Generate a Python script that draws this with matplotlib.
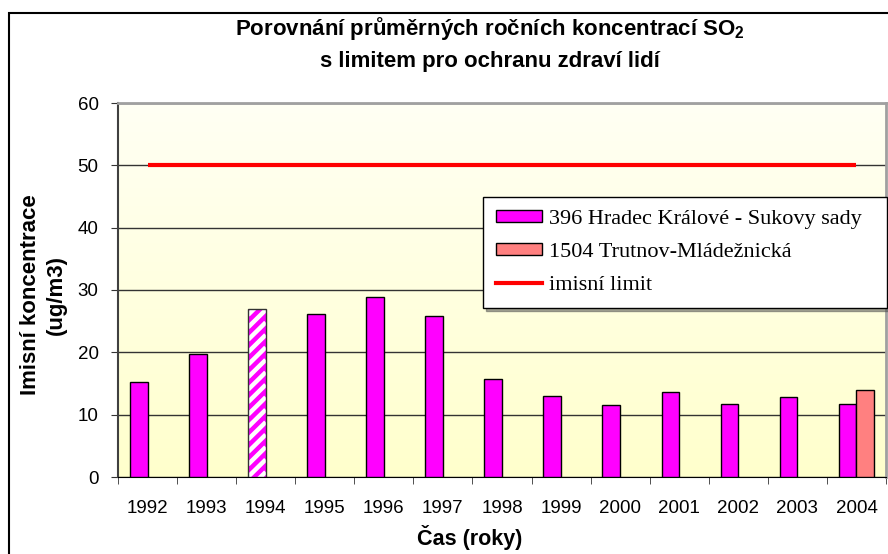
import numpy as np
import matplotlib.pyplot as plt
from matplotlib.patches import Patch, Rectangle
from matplotlib.lines import Line2D
from matplotlib.colors import LinearSegmentedColormap

plt.rcParams['font.family'] = 'Liberation Sans'
plt.rcParams['mathtext.fontset'] = 'custom'
plt.rcParams['mathtext.rm'] = 'Liberation Sans'
plt.rcParams['mathtext.bf'] = 'Liberation Sans:bold'

# Data
years = ['1992', '1993', '1994', '1995', '1996', '1997', '1998',
         '1999', '2000', '2001', '2002', '2003', '2004']
hradec = [15.3, 19.8, 27.0, 26.2, 28.9, 25.8, 15.8, 13.0, 11.5, 13.6, 11.7, 12.8, 11.7]
trutnov = [np.nan] * 12 + [13.9]
limit = 50
hatched_year = '1994'

label_hk = '396 Hradec Králové - Sukovy sady'
label_tr = '1504 Trutnov-Mládežnická'
label_lim = 'imisní limit'

fig = plt.figure(figsize=(8.88, 5.54), dpi=100)

# outer chart frame
fig.patches.append(Rectangle((9/888, -0.1), 1.2, 1 - 13/554 + 0.1, transform=fig.transFigure,
                             fill=False, edgecolor='black', lw=1.5))

ax = fig.add_axes([118/888, 77/554, 768/888, 374/554])
x = np.arange(len(years))
w = 0.3

# background gradient
grad = np.linspace(0, 1, 256).reshape(-1, 1)
cmap = LinearSegmentedColormap.from_list('bg', ['#FFFFF4', '#FFFFCC'])
ax.imshow(grad, extent=[-0.5, 12.5, 0, 60], aspect='auto', cmap=cmap, zorder=-1, origin='upper')

hi = years.index(hatched_year)
plain = [v if i != hi else np.nan for i, v in enumerate(hradec)]
ax.bar(x - w/2, plain, w, color='#FF00FF', edgecolor='black', lw=1, zorder=3)

# hatched bar (1994) - white diagonal stripes clipped to the bar
hb = ax.bar(x[hi] - w/2, hradec[hi], w, color='#FF00FF', lw=0, zorder=3)[0]
period = 2.0          # vertical stripe period in data units
rise = 2.8            # rise across the bar width (~45 deg on screen)
x0 = x[hi] - w
for k in np.arange(-2, hradec[hi] / period + 2):
    y0 = k * period
    ln, = ax.plot([x0, x0 + w], [y0, y0 + rise], color='white', lw=3.2, zorder=3.1,
                  solid_capstyle='butt')
    ln.set_clip_path(hb)
ax.bar(x[hi] - w/2, hradec[hi], w, fill=False, edgecolor='#333333', lw=1, zorder=3.2)

ax.bar(x + w/2, trutnov, w, color='#FF8080', edgecolor='black', lw=1, zorder=3)

ax.plot([x[0], x[-1]], [limit, limit], color='red', lw=3, solid_capstyle='butt', zorder=4)

ax.set_xlim(-0.5, 12.5)
ax.set_ylim(0, 60)
ax.set_yticks(range(0, 61, 10))
ax.yaxis.grid(True, color='#333333', lw=1)
ax.set_axisbelow(True)

ax.set_xticks(x)
ax.set_xticklabels(years)
ax.set_xticks(np.arange(-0.5, 12.6, 1), minor=True)
ax.tick_params(axis='x', which='major', length=0, pad=16.5, labelsize=13.5)
ax.tick_params(axis='x', which='minor', length=5, direction='out', color='#333333')
ax.tick_params(axis='y', length=5, direction='out', pad=9, labelsize=13.5, color='#333333')

ax.spines['left'].set_color('#404040')
ax.spines['left'].set_linewidth(1.5)
ax.spines['bottom'].set_color('black')
for s in ['top', 'right']:
    ax.spines[s].set_color('#a0a0a0')
    ax.spines[s].set_linewidth(2)

handles = [Patch(facecolor='#FF00FF', edgecolor='black'),
           Patch(facecolor='#FF8080', edgecolor='black'),
           Line2D([0], [0], color='red', lw=3)]
leg = ax.legend(handles, [label_hk, label_tr, label_lim], loc='upper left',
                bbox_to_anchor=(483/888, 1 - 310/554, 404/888, 113/554),
                bbox_transform=fig.transFigure, mode='expand',
                fancybox=False, shadow=True, edgecolor='black', framealpha=1,
                prop={'family': 'Liberation Serif', 'size': 16},
                handlelength=2.05, handleheight=0.45, labelspacing=0.62,
                borderpad=0.6, handletextpad=0.3, borderaxespad=0)
leg.get_frame().set_linewidth(1)
leg.set_zorder(10)

fig.text(490/888, 1 - 28/554, 'Porovnání průměrných ročních koncentrací SO$_\\mathbf{2}$',
         ha='center', va='center', fontsize=16, fontweight='bold')
fig.text(490/888, 1 - 62/554, 's limitem pro ochranu zdraví lidí',
         ha='center', va='center', fontsize=16, fontweight='bold')
fig.text(43/888, 1 - 295/554, 'Imisní koncentrace\n(ug/m3)', rotation=90,
         ha='center', va='center', fontsize=16, fontweight='bold', linespacing=1.3)
fig.text(470/888, 1 - 537/554, 'Čas (roky)', ha='center', va='center',
         fontsize=15.5, fontweight='bold')

fig.savefig('out.png', dpi=100)
